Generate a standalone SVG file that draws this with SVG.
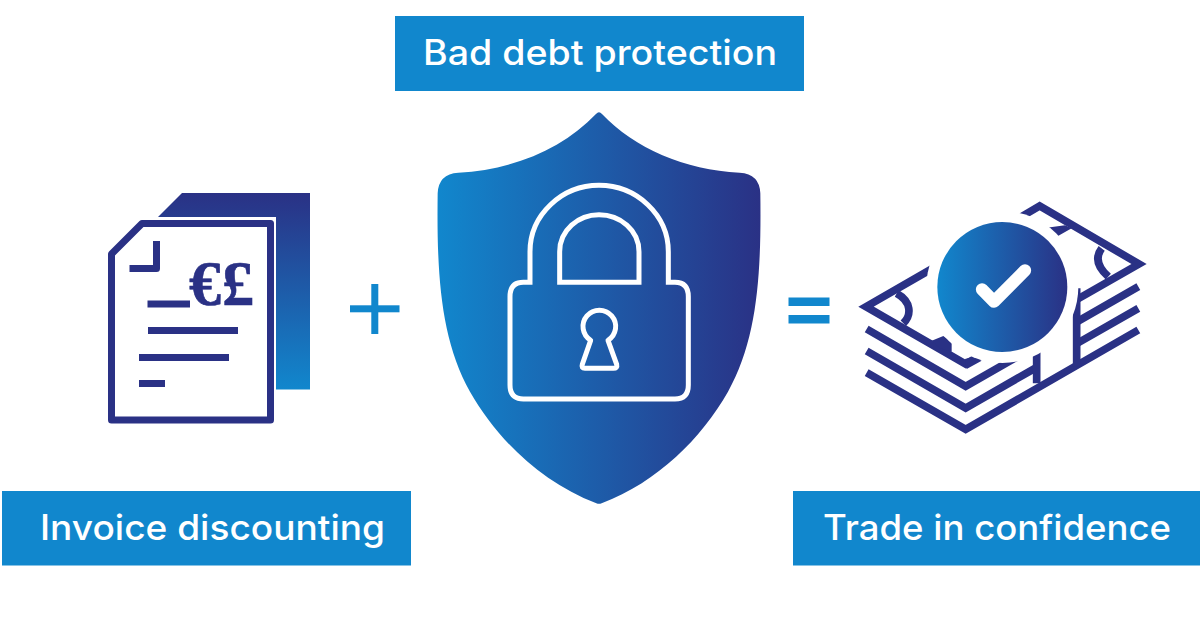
<svg xmlns="http://www.w3.org/2000/svg" width="1200" height="620" viewBox="0 0 1200 620">
<style>
.box{fill:#1187cd}
.lbl{font-family:Inter,"Liberation Sans",sans-serif;font-size:35px;font-weight:500;fill:#fff;text-anchor:middle}
.ln{fill:none;stroke:#2a3185;stroke-width:23}
.doc{fill:none;stroke:#2a3185;stroke-width:7}
.wl{fill:none;stroke:#fff;stroke-width:15}
.sym{fill:#1187cd}
.cur{font-family:"Liberation Serif",serif;font-weight:700;font-size:64px;fill:#2a3185;stroke:#2a3185;stroke-width:.6}
</style>
<defs>
<linearGradient id="h"><stop offset="0" stop-color="#1187cd"/><stop offset="1" stop-color="#2a3185"/></linearGradient>
<linearGradient id="v" x1="0" y1="1" x2="0" y2="0"><stop offset="0" stop-color="#1187cd"/><stop offset="1" stop-color="#2a3185"/></linearGradient>
</defs>
<rect width="1200" height="620" fill="#fff"/>
<g id="label-top"><rect class="box" x="395" y="16" width="409" height="75"/><text class="lbl" x="600" y="65" textLength="354" lengthAdjust="spacingAndGlyphs">Bad debt protection</text></g>
<g id="label-left"><rect class="box" x="2" y="491" width="409" height="74.500"/><text class="lbl" x="212.500" y="540" textLength="345" lengthAdjust="spacingAndGlyphs">Invoice discounting</text></g>
<g id="label-right"><rect class="box" x="793" y="491" width="407" height="74.500"/><text class="lbl" x="997" y="540" textLength="348" lengthAdjust="spacingAndGlyphs">Trade in confidence</text></g>
<g id="document">
<path d="M182 193H310V389.500H276V217H158Z" fill="url(#v)"/>
<path d="M111.500 254L142 223.500H270.500V420H111.500Z" fill="#fff" stroke="#fff" stroke-width="9" stroke-linejoin="round"/>
<path class="doc" d="M111.500 254L142 223.500H270.500V420H111.500Z" stroke-linejoin="round"/>
<path class="doc" d="M129.500 268.500H156.500V241" stroke-linejoin="round"/>
<path class="doc" d="M147.500 304H190M148 330.500H238M139 357.500H229M139 383.500H165"/>
<text class="cur" x="189" y="305">€</text><text class="cur" x="222" y="305">£</text>
</g>
<g id="plus"><rect class="sym" x="350" y="305.300" width="49.500" height="7"/><rect class="sym" x="371.300" y="284" width="7" height="50"/></g>
<g id="shield">
<g transform="translate(430 105) scale(.33333)">
<path fill="url(#h)" d="M498 27Q507 17 516 27C614 130 764 195 929 203Q989 207 991 265C994 500 984 700 894 860C814 1000 684 1130 515 1195Q507 1198 499 1195C330 1130 200 1000 120 860C30 700 20 500 23 265Q25 207 85 203C250 195 400 130 498 27Z"/>
<path class="wl" d="M300 532V440C300 330 395 241 507 241C620 241 715 330 715 440V532H735Q775 532 775 575V840Q775 882 735 882H280Q240 882 240 840V575Q240 532 280 532Z"/>
<path class="wl" d="M389 532V440C389 375 445 329 507 329C570 329 627 375 627 440V532Z"/>
<path class="wl" d="M482 706A49 49 0 1 1 534 706L560 778Q563 790 550 790H465Q453 790 457 778Z" stroke-linejoin="round"/>
</g>
</g>
<g id="equals"><rect class="sym" x="788.500" y="297.500" width="41" height="8.500"/><rect class="sym" x="788.500" y="315" width="41" height="8.500"/></g>
<g id="money">
<g transform="translate(850 195) scale(.33333)">
<path class="ln" d="M480 85L569 33L867 207L678 315"/>
<path class="ln" d="M300 190L48 335L347 507L460 442"/>
<path class="ln" d="M50 402L347 574L560 452"/>
<path class="ln" d="M50 468L347 639L560 517"/>
<path class="ln" d="M50 533L347 703L865 405"/>
<path class="ln" d="M678 382L865 275M678 447L865 340"/>
<path class="ln" d="M680 280V515M560 450V565"/>
<path class="ln" d="M755 160Q725 200 775 245M140 295C185 320 185 360 160 385"/>
<path fill="#2a3185" d="M590 98L645 91L665 100L620 125ZM245 437L280 423L305 442L305 470L270 460ZM345 492L368 485L395 497L350 522Z"/>
<circle cx="457" cy="276" r="228" fill="#fff"/>
<circle cx="457" cy="276" r="195" fill="url(#h)"/>
<path d="M396 283L432 320L525 226" fill="none" stroke="#fff" stroke-width="37" stroke-linecap="round" stroke-linejoin="round"/>
</g>
</g>
</svg>
